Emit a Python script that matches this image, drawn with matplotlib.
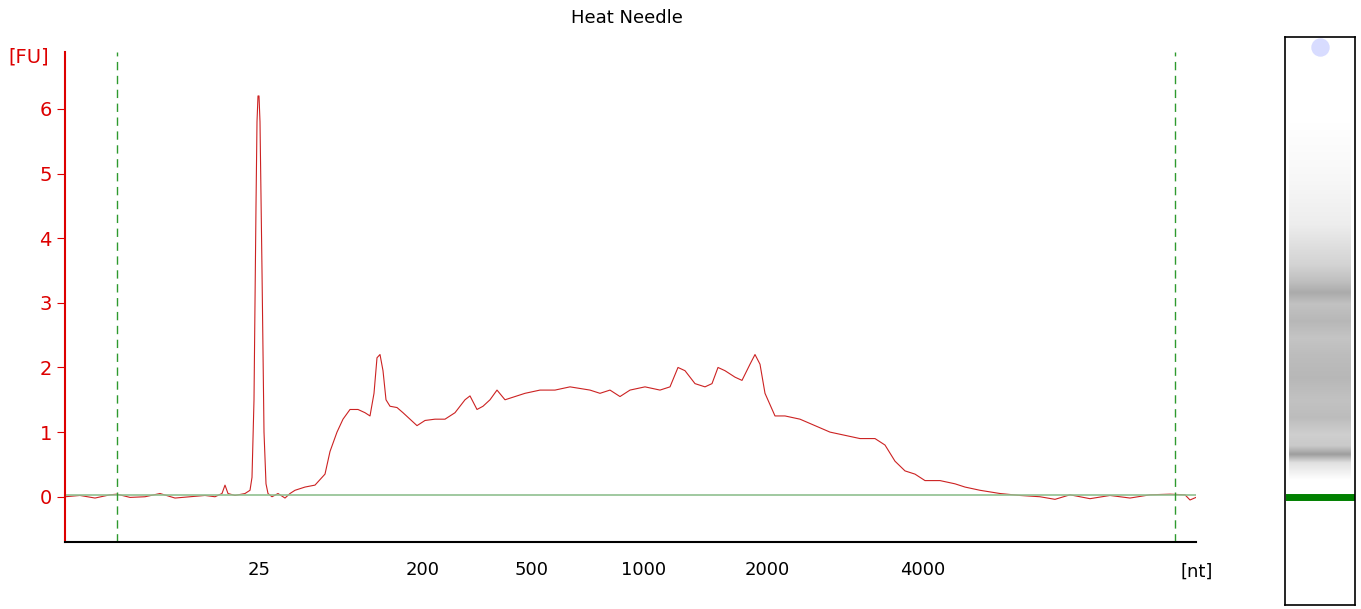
import matplotlib.pyplot as plt
import numpy as np

# electropherogram trace: x in run position units, y in FU
pos = [65, 80, 95, 110, 117, 130, 145, 160, 175, 190, 205, 215, 222, 225, 228, 235, 245, 250,
       252, 254, 256, 257, 258, 259, 260, 262, 264, 266, 268, 272, 278, 285, 290, 295, 305, 315, 325,
       330, 337, 343, 350, 358, 365, 370, 374, 377, 380, 383, 386, 390, 397, 403, 410, 417,
       425, 435, 445, 455, 465, 470, 477, 483, 490, 497, 505, 515, 525, 540, 555, 570, 590,
       600, 610, 620, 630, 645, 660, 670, 678, 685, 695, 705, 712, 718, 725, 735, 742, 750,
       755, 760, 765, 775, 785, 800, 815, 830, 845, 860, 875, 885, 895, 905, 915, 925, 940,
       955, 965, 980, 1000, 1020, 1040, 1055, 1070, 1090, 1110, 1130, 1150, 1170, 1185,
       1190, 1196]
fu = [0.0, 0.02, -0.02, 0.03, 0.04, -0.01, 0.0, 0.05, -0.02, 0.0, 0.02, 0.0, 0.05, 0.18, 0.05,
      0.02, 0.05, 0.1, 0.3, 1.5, 4.5, 5.8, 6.2, 6.2, 5.8, 3.5, 1.0, 0.2, 0.05, 0.0, 0.05, -0.02, 0.05,
      0.1, 0.15, 0.18, 0.35, 0.7, 1.0, 1.2, 1.35, 1.35, 1.3, 1.25, 1.6, 2.15, 2.2, 1.95, 1.5,
      1.4, 1.38, 1.3, 1.2, 1.1, 1.18, 1.2, 1.2, 1.3, 1.5, 1.56, 1.35, 1.4, 1.5, 1.65, 1.5,
      1.55, 1.6, 1.65, 1.65, 1.7, 1.65, 1.6, 1.65, 1.55, 1.65, 1.7, 1.65, 1.7, 2.0, 1.95,
      1.75, 1.7, 1.75, 2.0, 1.95, 1.85, 1.8, 2.05, 2.2, 2.05, 1.6, 1.25, 1.25, 1.2, 1.1, 1.0,
      0.95, 0.9, 0.9, 0.8, 0.55, 0.4, 0.35, 0.25, 0.25, 0.2, 0.15, 0.1, 0.05, 0.02, 0.0,
      -0.04, 0.03, -0.03, 0.02, -0.02, 0.03, 0.04, 0.03, -0.05, -0.01]

tick_pos = [259, 423, 532, 644, 767, 923]
tick_labels = ['25', '200', '500', '1000', '2000', '4000']
markers = [117, 1175]

# gel lane darkness profile (top to bottom of lane, 0..1 fraction of lane height)
gel_frac = [0.0, 0.15, 0.25, 0.33, 0.37, 0.4, 0.43, 0.45, 0.47, 0.5, 0.53, 0.56, 0.6, 0.64,
            0.67, 0.7, 0.72, 0.735, 0.75, 0.78, 1.0]
gel_dark = [0.0, 0.0, 0.03, 0.07, 0.13, 0.17, 0.25, 0.33, 0.24, 0.28, 0.23, 0.26, 0.28, 0.24,
            0.26, 0.19, 0.21, 0.38, 0.12, 0.0, 0.0]

fig = plt.figure(figsize=(13.61, 6.09), dpi=100)
ax = fig.add_axes([65 / 1361, 1 - 542 / 609, (1196 - 65) / 1361, 490 / 609])
ax.plot(pos, fu, color='#cc2222', lw=0.8)
ax.axhline(0.03, color='#90c090', lw=1.2)
for m in markers:
    ax.axvline(m, color='#2e9a2e', ls=(0, (6, 4)), lw=1.0)
ax.set_xlim(65, 1196)
ax.set_ylim(-0.7, 6.88)
ax.set_yticks(range(7))
ax.tick_params(axis='y', colors='#dd0000', labelsize=14, length=6)
ax.set_xticks(tick_pos)
ax.set_xticklabels(tick_labels, fontsize=13)
ax.tick_params(axis='x', length=0, pad=14)
for s in ['top', 'right']:
    ax.spines[s].set_visible(False)
ax.spines['left'].set_color('#dd0000')
ax.spines['left'].set_linewidth(1.5)
ax.spines['bottom'].set_linewidth(1.5)
fig.text(8 / 1361, 1 - 57 / 609, '[FU]', color='#dd0000', fontsize=14, va='center')
fig.text(1180 / 1361, 1 - 572 / 609, '[nt]', fontsize=13, va='center')
fig.text(627 / 1361, 1 - 18 / 609, 'Heat Needle', fontsize=13, ha='center', va='center')

# gel lane
gx = fig.add_axes([1285 / 1361, 1 - 605 / 609, 70 / 1361, 568 / 609])
rows = np.linspace(0, 1, 568)
dark = np.interp(rows, gel_frac, gel_dark)
img = np.ones((568, 70, 3)) * (1 - dark)[:, None, None]
img[:, :4] = 1
img[:, -4:] = 1
gx.imshow(img, aspect='auto', extent=(0, 1, 1, 0))
gx.plot([0.05, 0.95], [0.81, 0.81], color='#008000', lw=5)
gx.scatter([0.5], [0.018], s=150, color='#d8dcff', marker='o')
gx.set_xlim(0, 1)
gx.set_ylim(1, 0)
gx.set_xticks([])
gx.set_yticks([])
for s in gx.spines.values():
    s.set_linewidth(1.2)

fig.savefig('out.png', dpi=100)
